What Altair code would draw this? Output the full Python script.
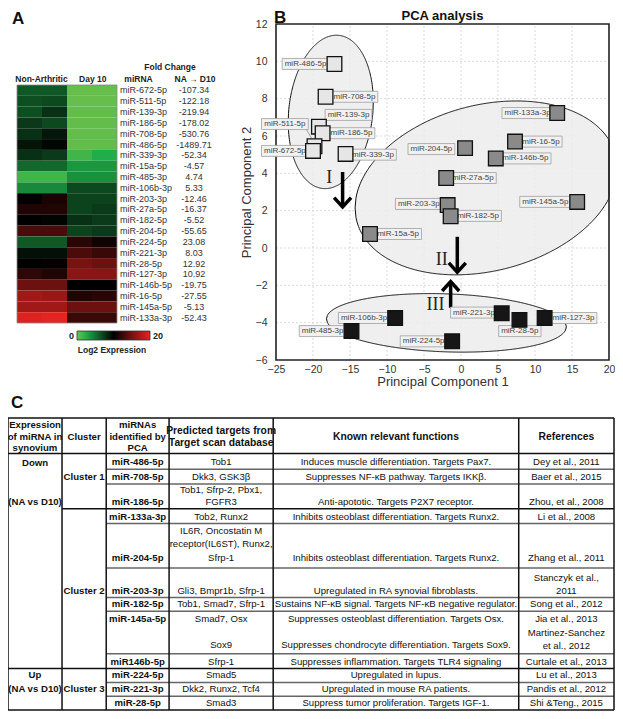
import altair as alt
import numpy as np
import pandas as pd

FONT = "Liberation Sans"
SERIF = "Liberation Serif"

# ================= Panel A : heat map data =================
heat_mirna = ["miR-672-5p", "miR-511-5p", "miR-139-3p", "miR-186-5p", "miR-708-5p", "miR-486-5p",
              "miR-339-3p", "miR-15a-5p", "miR-485-3p", "miR-106b-3p", "miR-203-3p", "miR-27a-5p",
              "miR-182-5p", "miR-204-5p", "miR-224-5p", "miR-221-3p", "miR-28-5p", "miR-127-3p",
              "miR-146b-5p", "miR-16-5p", "miR-145a-5p", "miR-133a-3p"]
na_rep1 = [6.2, 6.6, 6.6, 7.6, 7.95, 9.15, 7.95, 5.5, 1.5, 4.1, 10.2, 11.4,
           10.0, 13.2, 6.2, 9.3, 10.0, 11.9, 14.7, 17.0, 17.0, 19.6]
na_rep2 = [6.2, 6.85, 7.95, 6.85, 9.0, 9.65, 7.5, 5.5, 1.5, 4.1, 11.0, 11.4,
           9.8, 13.2, 6.2, 9.3, 10.2, 11.4, 14.7, 16.7, 17.0, 20.0]
d10_rep1 = [0.3, 0.3, 0.4, 0.4, 0.4, 0.4, 1.5, 3.5, 3.8, 6.85, 7.1, 7.1,
            7.95, 7.1, 11.8, 13.2, 15.2, 16.0, 10.0, 11.4, 14.7, 12.5]
d10_rep2 = [0.3, 0.3, 0.4, 0.4, 0.4, 0.4, 2.5, 3.5, 3.8, 6.85, 7.1, 7.5,
            7.5, 7.5, 10.7, 12.5, 14.7, 16.0, 10.0, 11.75, 14.7, 12.5]
fold_change = ["-107.34", "-122.18", "-219.94", "-178.02", "-530.76", "-1489.71", "-52.34", "-4.57",
               "4.74", "5.33", "-12.46", "-16.37", "-5.52", "-55.65", "23.08", "8.03", "12.92",
               "10.92", "-19.75", "-27.55", "-5.13", "-52.43"]
heat_stops = [0, 2.5, 10, 20]
heat_colors = ["#70c04b", "#1fae4a", "#000000", "#e52421"]

# ================= Panel B : PCA data =================
pca_mirna = ["miR-486-5p", "miR-708-5p", "miR-139-3p", "miR-186-5p", "miR-511-5p", "miR-672-5p", "miR-339-3p",
             "miR-133a-3p", "miR-16-5p", "miR-204-5p", "miR-146b-5p", "miR-27a-5p", "miR-203-3p",
             "miR-182-5p", "miR-145a-5p", "miR-15a-5p",
             "miR-106b-3p", "miR-485-3p", "miR-224-5p", "miR-221-3p", "miR-28-5p", "miR-127-3p"]
pc1 = [-17.1, -18.3, -19.2, -18.7, -19.8, -20.0, -15.6,
       13.0, 7.3, 0.55, 4.7, -2.0, -1.8, -1.4, 15.7, -12.3,
       -8.9, -14.8, -1.2, 5.5, 7.9, 11.3]
pc2 = [9.86, 8.1, 6.5, 6.15, 5.45, 5.2, 5.04,
       7.23, 5.7, 5.35, 4.8, 3.75, 2.3, 1.7, 2.47, 0.75,
       -3.75, -4.45, -5.0, -3.5, -3.85, -3.75]
pca_cluster = [1] * 7 + [2] * 9 + [3] * 6
# label anchor positions (data units)
lab_x = [-21.0, -14.4, -15.2, -14.8, -23.8, -23.8, -11.9,
         9.0, 10.8, -4.0, 8.7, 1.6, -5.7, 2.3, 11.4, -8.5,
         -13.1, -18.7, -5.05, 1.75, 7.95, 15.2]
lab_y = [9.86, 8.1, 7.13, 6.15, 6.64, 5.2, 5.0,
         7.23, 5.7, 5.3, 4.8, 3.75, 2.36, 1.72, 2.47, 0.75,
         -3.75, -4.45, -5.0, -3.46, -4.45, -3.75]
x_ticks = [-25, -20, -15, -10, -5, 0, 5, 10, 15, 20]
y_ticks = [-6, -4, -2, 0, 2, 4, 6, 8, 10, 12]
# ellipses: centre (data), semi-axes (px), tilt (deg)
ell_cx = [-17.6, 3.39, -1.97]
ell_cy = [7.29, 3.22, -4.01]
ell_a = [77.0, 133.5, 120.0]
ell_b = [42.0, 83.0, 29.0]
ell_t = [84.0, 14.3, -2.0]
arrow_x = [-16.0, -0.5, -1.4]
arrow_from = [4.07, 0.6, -3.2]
arrow_to = [2.2, -1.3, -1.8]
roman = ["I", "II", "III"]
roman_x = [-17.8, -2.6, -3.45]
roman_y = [3.75, -0.65, -3.05]

# ================= Panel C : table data =================
tbl_header = [["Expression", "of miRNA in", "synovium"], ["Cluster"], ["miRNAs", "identified by", "PCA"],
              ["Predicted targets from", "Target scan database"], ["Known relevant functions"], ["References"]]
tbl_mirna = ["miR-486-5p", "miR-708-5p", "miR-186-5p", "miR-133a-3p", "miR-204-5p", "miR-203-3p",
             "miR-182-5p", "miR-145a-5p", "miR146b-5p", "miR-224-5p", "miR-221-3p", "miR-28-5p"]
tbl_targets = [["Tob1"], ["Dkk3,  GSK3β"], ["Tob1,  Sfrp-2, Pbx1,", "FGFR3"], ["Tob2, Runx2"],
               ["IL6R,  Oncostatin M", "receptor(IL6ST), Runx2,", "Sfrp-1"], ["Gli3, Bmpr1b, Sfrp-1"],
               ["Tob1,  Smad7, Sfrp-1"], ["Smad7,  Osx", "Sox9"], ["Sfrp-1"], ["Smad5"],
               ["Dkk2, Runx2, Tcf4"], ["Smad3"]]
tbl_functions = [["Induces  muscle differentiation.  Targets Pax7."],
                 ["Suppresses NF-κB pathway. Targets IKKβ."],
                 ["Anti-apototic. Targets P2X7 receptor."],
                 ["Inhibits osteoblast  differentiation. Targets Runx2."],
                 ["Inhibits osteoblast  differentiation. Targets Runx2."],
                 ["Upregulated in RA synovial fibroblasts."],
                 ["Sustains NF-κB signal. Targets NF-κB negative regulator."],
                 ["Suppresses  osteoblast  differentiation. Targets Osx.",
                  "Suppresses  chondrocyte differentiation. Targets Sox9."],
                 ["Suppresses inflammation. Targets TLR4 signaling"],
                 ["Upregulated in lupus."],
                 ["Upregulated in mouse RA patients."],
                 ["Suppress tumor proliferation. Targets IGF-1."]]
tbl_refs = [["Dey et al., 2011"], ["Baer et al., 2015"], ["Zhou, et al., 2008"], ["Li et al., 2008"],
            ["Zhang et al., 2011"], ["Stanczyk et al.,", "2011"], ["Song et al., 2012"],
            ["Jia et al., 2013", "Martinez-Sanchez", "et al., 2012"], ["Curtale et al., 2013"],
            ["Lu et al., 2013"], ["Pandis et al., 2012"], ["Shi &Teng., 2015"]]
tbl_groups = [(["Down"], ["(NA vs D10)"]), (["Up"], ["(NA vs D10)"])]
tbl_clusters = ["Cluster 1", "Cluster 2", "Cluster 3"]

# ---------------- layout (picture coordinates of the table) ----------------
col_edges = [3, 58, 103, 167, 273, 523, 620]
header_y = [[429, 441, 452], [441], [429, 441, 452], [435, 447], [441], [441]]
row_y_mirna = [467, 482, 507, 522, 564, 597, 611, 626, 669, 683, 697, 711]
row_y_targets = [[467], [482], [495, 507], [522], [537, 550, 564], [597], [611], [626, 652], [669], [683], [697], [711]]
row_y_functions = [[467], [482], [507], [522], [564], [597], [611], [626, 652], [669], [683], [697], [711]]
row_y_refs = [[467], [482], [507], [522], [564], [584, 597], [611], [626, 640, 653], [669], [683], [697], [711]]
group_y = [(468, 507), (683, 697)]
cluster_y = [482, 597, 697]
hlines = [(422, 3, "major"), (458, 3, "major"), (474, 103, "minor"), (489, 103, "minor"),
          (514, 58, "major"), (529, 103, "minor"), (574, 103, "minor"), (604, 103, "minor"),
          (618, 103, "minor"), (661, 103, "minor"), (676, 3, "major"), (690, 103, "minor"),
          (704, 103, "minor"), (718, 3, "major")]

# ======================================================================
# Panel A chart
# ======================================================================
hx = alt.Scale(domain=[0, 4], range=[9, 109], nice=False, zero=False)
hy = alt.Scale(domain=[0, 22], range=[77, 315], nice=False, zero=False)


def HX(f):
    return alt.X(f, scale=hx, axis=None)


def HY(f):
    return alt.Y(f, scale=hy, axis=None)


cells = []
for i, m in enumerate(heat_mirna):
    for c, series in enumerate([na_rep1, na_rep2, d10_rep1, d10_rep2]):
        cells.append({"mirna": m, "c0": c, "c1": c + 1, "r0": i, "r1": i + 1, "value": series[i]})
cells = pd.DataFrame(cells)

heat_rect = alt.Chart(cells).mark_rect().encode(
    x=HX("c0:Q"), x2="c1:Q", y=HY("r0:Q"), y2="r1:Q",
    color=alt.Color("value:Q",
                    scale=alt.Scale(domain=heat_stops, range=heat_colors, interpolate="rgb"),
                    legend=alt.Legend(orient="none", legendX=69, legendY=323, direction="horizontal",
                                      gradientLength=73, gradientThickness=9, title=None,
                                      labelOpacity=0, labelFontSize=1,
                                      gradientStrokeColor="#333", gradientStrokeWidth=0.8)))

outline_df = pd.DataFrame({"c0": [0], "c1": [4], "r0": [0], "r1": [22]})
heat_outline = alt.Chart(outline_df).mark_rect(fill=None, stroke="#888", strokeWidth=0.8).encode(
    x=HX("c0:Q"), x2="c1:Q", y=HY("r0:Q"), y2="r1:Q")

lab_df = pd.DataFrame({"text": heat_mirna, "fc": fold_change,
                       "ry": [i + 0.5 for i in range(len(heat_mirna))],
                       "lx": [4.12] * len(heat_mirna), "fx": [7.08] * len(heat_mirna)})
heat_names = alt.Chart(lab_df).mark_text(font=FONT, fontSize=9, align="left", baseline="middle",
                                         color="#333").encode(x=HX("lx:Q"), y=HY("ry:Q"), text="text:N")
heat_fc = alt.Chart(lab_df).mark_text(font=FONT, fontSize=9, align="center", baseline="middle",
                                      color="#333").encode(x=HX("fx:Q"), y=HY("ry:Q"), text="fc:N")

head_df = pd.DataFrame({"text": ["Non-Arthritic", "Day 10", "miRNA", "Fold Change", "NA → D10"],
                        "x": [0.98, 3.03, 4.86, 6.12, 7.12],
                        "y": [-0.55, -0.55, -0.55, -1.69, -0.55]})
heat_head = alt.Chart(head_df).mark_text(font=FONT, fontSize=8.5, fontWeight="bold", align="center",
                                         baseline="middle", color="#222").encode(
    x=HX("x:Q"), y=HY("y:Q"), text="text:N")

cb_df = pd.DataFrame({"text": ["0", "20"], "x": [2.28, 5.44], "y": [23.16, 23.16]})
cb_left = alt.Chart(cb_df.iloc[[0]]).mark_text(font=FONT, fontSize=9, fontWeight="bold", align="right",
                                               baseline="middle", color="#222").encode(
    x=HX("x:Q"), y=HY("y:Q"), text="text:N")
cb_right = alt.Chart(cb_df.iloc[[1]]).mark_text(font=FONT, fontSize=9, fontWeight="bold", align="left",
                                                baseline="middle", color="#222").encode(
    x=HX("x:Q"), y=HY("y:Q"), text="text:N")
cb_title = alt.Chart(pd.DataFrame({"text": ["Log2 Expression"], "x": [3.8], "y": [24.5]})).mark_text(
    font=FONT, fontSize=8.5, fontWeight="bold", align="center", baseline="middle", color="#222").encode(
    x=HX("x:Q"), y=HY("y:Q"), text="text:N")
letter_a = alt.Chart(pd.DataFrame({"text": ["A"], "x": [-0.2], "y": [-6.85]})).mark_text(
    font=FONT, fontSize=17, fontWeight="bold", align="left", baseline="top", color="#111").encode(
    x=HX("x:Q"), y=HY("y:Q"), text="text:N")

panel_a = alt.layer(heat_rect, heat_outline, heat_names, heat_fc, heat_head,
                    cb_left, cb_right, cb_title, letter_a)

# ======================================================================
# Panel B chart
# ======================================================================
PX0, PX1, PY0, PY1 = 268, 601, 352, 16
px = alt.Scale(domain=[x_ticks[0], x_ticks[-1]], range=[PX0, PX1], nice=False, zero=False)
py = alt.Scale(domain=[y_ticks[0], y_ticks[-1]], range=[PY0, PY1], nice=False, zero=False)
SX = (PX1 - PX0) / (x_ticks[-1] - x_ticks[0])
SY = (PY0 - PY1) / (y_ticks[-1] - y_ticks[0])

xaxis = alt.Axis(orient="bottom", offset=PY0 - 703, values=x_ticks, grid=False, domain=False, ticks=False,
                 labelFont=FONT, labelFontSize=10.5, labelColor="#333", labelPadding=4, labelFlush=False,
                 labelOverlap=False, title="Principal Component 1", titleFont=FONT, titleFontSize=13,
                 titleFontWeight="normal", titleColor="#333", titlePadding=1)
yaxis = alt.Axis(orient="left", offset=-PX0, values=y_ticks, grid=False, domain=False, ticks=False,
                 labelFont=FONT, labelFontSize=10.5, labelColor="#333", labelPadding=9, labelFlush=False,
                 labelOverlap=False, title="Principal Component 2", titleFont=FONT, titleFontSize=13,
                 titleFontWeight="normal", titleColor="#333", titlePadding=2)


def PXE(f):
    return alt.X(f, scale=px, axis=xaxis)


def PYE(f):
    return alt.Y(f, scale=py, axis=yaxis)


# grid lines
gv = pd.DataFrame({"x": x_ticks[1:-1], "y0": y_ticks[0], "y1": y_ticks[-1]})
gh = pd.DataFrame({"y": y_ticks[1:-1], "x0": x_ticks[0], "x1": x_ticks[-1]})
grid_v = alt.Chart(gv).mark_rule(color="#cfcfcf", strokeWidth=0.8, strokeDash=[2, 2]).encode(
    x=PXE("x:Q"), y=PYE("y0:Q"), y2="y1:Q")
grid_h = alt.Chart(gh).mark_rule(color="#cfcfcf", strokeWidth=0.8, strokeDash=[2, 2]).encode(
    y=PYE("y:Q"), x=PXE("x0:Q"), x2="x1:Q")


def ellipse_band(cx, cy, a, b, tdeg, xmax, n=300):
    th = np.radians(tdeg)
    c, s = np.cos(th), np.sin(th)
    A = s * s / a ** 2 + c * c / b ** 2
    W = np.sqrt(a * a * c * c + b * b * s * s)
    umax = min(W, (xmax - cx) * SX)
    u = np.linspace(-W, umax, n)
    B = 2 * u * s * c * (1 / a ** 2 - 1 / b ** 2)
    C = u * u * (c * c / a ** 2 + s * s / b ** 2) - 1
    disc = np.clip(B * B - 4 * A * C, 0, None)
    v1 = (-B - np.sqrt(disc)) / (2 * A)
    v2 = (-B + np.sqrt(disc)) / (2 * A)
    return pd.DataFrame({"x": cx + u / SX, "ylo": cy + v1 / SY, "yhi": cy + v2 / SY})


ell_layers = []
for k in range(3):
    edf = ellipse_band(ell_cx[k], ell_cy[k], ell_a[k], ell_b[k], ell_t[k], x_ticks[-1])
    ell_layers.append(alt.Chart(edf).mark_area(fill="#ececec", fillOpacity=0.85, stroke="#111",
                                               strokeWidth=1.0).encode(
        x=PXE("x:Q"), y=PYE("ylo:Q"), y2="yhi:Q"))

frame_df = pd.DataFrame({"x0": [x_ticks[0]], "x1": [x_ticks[-1]], "y0": [y_ticks[0]], "y1": [y_ticks[-1]]})
frame = alt.Chart(frame_df).mark_rect(fill=None, stroke="#222", strokeWidth=1.6).encode(
    x=PXE("x0:Q"), x2="x1:Q", y=PYE("y0:Q"), y2="y1:Q")

arr_df = pd.DataFrame({"x": arrow_x, "y0": arrow_from, "y1": arrow_to})
shafts = alt.Chart(arr_df).mark_rule(color="black", strokeWidth=3.5).encode(
    x=PXE("x:Q"), y=PYE("y0:Q"), y2="y1:Q")
heads_down = alt.Chart(arr_df.iloc[[0, 1]]).mark_point(shape="M-1,-1.1L0,0L1,-1.1", size=289, filled=False,
                                                        stroke="black", strokeWidth=3.5, opacity=1).encode(
    x=PXE("x:Q"), y=PYE("y1:Q"))
heads_up = alt.Chart(arr_df.iloc[[2]]).mark_point(shape="M-1,1.1L0,0L1,1.1", size=289, filled=False,
                                                   stroke="black", strokeWidth=3.5, opacity=1).encode(
    x=PXE("x:Q"), y=PYE("y1:Q"))

rom_df = pd.DataFrame({"text": roman, "x": roman_x, "y": roman_y})
romans = alt.Chart(rom_df).mark_text(font=SERIF, fontSize=18, color="#222", align="center",
                                     baseline="middle").encode(x=PXE("x:Q"), y=PYE("y:Q"), text="text:N")

CW = {"m": 0.833, "i": 0.222, "R": 0.722, "-": 0.333}


def text_w(s, fs):
    return sum(CW.get(ch, 0.556) for ch in s) * fs


LFS = 8
box_half = [(text_w(t, LFS) + 5) / 2 / SX for t in pca_mirna]
pdf = pd.DataFrame({"mirna": pca_mirna, "pc1": pc1, "pc2": pc2, "cluster": pca_cluster,
                    "lx": lab_x, "ly": lab_y,
                    "bx0": [lab_x[i] - box_half[i] for i in range(len(lab_x))],
                    "bx1": [lab_x[i] + box_half[i] for i in range(len(lab_x))],
                    "by0": [v - 5.5 / SY for v in lab_y], "by1": [v + 5.5 / SY for v in lab_y]})
boxes = alt.Chart(pdf).mark_rect(fill="#f1f1f1", stroke="#a0a0a0", strokeWidth=0.8).encode(
    x=PXE("bx0:Q"), x2="bx1:Q", y=PYE("by0:Q"), y2="by1:Q")
labels = alt.Chart(pdf).mark_text(font=FONT, fontSize=LFS, color="#444", align="center",
                                  baseline="middle").encode(x=PXE("lx:Q"), y=PYE("ly:Q"), text="mirna:N")
lead_df = pd.DataFrame({"x0": [-20.9], "y0": [6.36], "x1": [-19.85], "y1": [5.65]})
leader = alt.Chart(lead_df).mark_rule(color="#888", strokeWidth=0.8).encode(
    x=PXE("x0:Q"), y=PYE("y0:Q"), x2="x1:Q", y2="y1:Q")

fills = {1: "#e6e6e6", 2: "#8a8a8a", 3: "#161616"}
point_layers = []
for cl in [1, 2, 3]:
    point_layers.append(alt.Chart(pdf[pdf.cluster == cl]).mark_square(
        size=215, filled=True, fill=fills[cl], stroke="#111", strokeWidth=1.3, opacity=1).encode(
        x=PXE("pc1:Q"), y=PYE("pc2:Q")))

ttl_df = pd.DataFrame({"text": ["B", "PCA analysis"], "x": [x_ticks[0], (x_ticks[0] + x_ticks[-1]) / 2],
                       "y": [y_ticks[-1], y_ticks[-1]]})
letter_b = alt.Chart(ttl_df.iloc[[0]]).mark_text(font=FONT, fontSize=17, fontWeight="bold", align="left",
                                                 baseline="top", color="#111", dx=-2, dy=-14).encode(
    x=PXE("x:Q"), y=PYE("y:Q"), text="text:N")
pca_title = alt.Chart(ttl_df.iloc[[1]]).mark_text(font=FONT, fontSize=13, fontWeight="bold", align="center",
                                                  baseline="top", color="#111", dy=-14).encode(
    x=PXE("x:Q"), y=PYE("y:Q"), text="text:N")

panel_b = alt.layer(grid_v, grid_h, *ell_layers, frame, shafts, heads_down, heads_up, romans,
                    boxes, labels, leader, *point_layers, letter_b, pca_title)

# ======================================================================
# Panel C chart (table)
# ======================================================================
tx = alt.Scale(domain=[col_edges[0], col_edges[-1]], range=[0, 606], nice=False, zero=False)
ty = alt.Scale(domain=[422, 718], range=[410, 702], nice=False, zero=False)


def TX(f):
    return alt.X(f, scale=tx, axis=None)


def TY(f):
    return alt.Y(f, scale=ty, axis=None)


col_mid = [(col_edges[i] + col_edges[i + 1]) / 2 for i in range(6)]
items = []  # (x, y, text, kind)
for c in range(6):
    kind = "head" if c < 3 else "head2"
    for t, y in zip(tbl_header[c], header_y[c]):
        items.append((col_mid[c], y, t, kind))
for g, ys in zip(tbl_groups, group_y):
    items.append((col_mid[0], ys[0], g[0][0], "bold"))
    items.append((col_mid[0], ys[1], g[1][0], "bold"))
for t, y in zip(tbl_clusters, cluster_y):
    items.append((col_mid[1], y, t, "bold"))
for t, y in zip(tbl_mirna, row_y_mirna):
    items.append((col_mid[2], y, t, "bold"))
for col, texts, ys in [(3, tbl_targets, row_y_targets), (4, tbl_functions, row_y_functions),
                       (5, tbl_refs, row_y_refs)]:
    for tl, yl in zip(texts, ys):
        for t, y in zip(tl, yl):
            items.append((col_mid[col], y, t, "normal"))
items = pd.DataFrame(items, columns=["x", "y", "text", "kind"])

t_head = alt.Chart(items[items.kind == "head"]).mark_text(
    font=FONT, fontSize=9.6, fontWeight="bold", align="center", baseline="middle", color="#111").encode(
    x=TX("x:Q"), y=TY("y:Q"), text="text:N")
t_head2 = alt.Chart(items[items.kind == "head2"]).mark_text(
    font=FONT, fontSize=10.3, fontWeight="bold", align="center", baseline="middle", color="#111").encode(
    x=TX("x:Q"), y=TY("y:Q"), text="text:N")
t_bold = alt.Chart(items[items.kind == "bold"]).mark_text(
    font=FONT, fontSize=9.6, fontWeight="bold", align="center", baseline="middle", color="#111").encode(
    x=TX("x:Q"), y=TY("y:Q"), text="text:N")
t_norm = alt.Chart(items[items.kind == "normal"]).mark_text(
    font=FONT, fontSize=9.6, align="center", baseline="middle", color="#111").encode(
    x=TX("x:Q"), y=TY("y:Q"), text="text:N")

hl = pd.DataFrame([{"y": y, "x0": x0, "x1": col_edges[-1], "kind": k} for (y, x0, k) in hlines])
vl = pd.DataFrame({"x": col_edges, "y0": 422, "y1": 718})
h_major = alt.Chart(hl[hl.kind == "major"]).mark_rule(color="#111", strokeWidth=1.5).encode(
    x=TX("x0:Q"), x2="x1:Q", y=TY("y:Q"))
h_minor = alt.Chart(hl[hl.kind == "minor"]).mark_rule(color="#666", strokeWidth=1.5).encode(
    x=TX("x0:Q"), x2="x1:Q", y=TY("y:Q"))
v_lines = alt.Chart(vl).mark_rule(color="#111", strokeWidth=1.5).encode(
    x=TX("x:Q"), y=TY("y0:Q"), y2="y1:Q")
letter_c = alt.Chart(pd.DataFrame({"text": ["C"], "x": [6], "y": [407]})).mark_text(
    font=FONT, fontSize=17, fontWeight="bold", align="left", baseline="middle", color="#111").encode(
    x=TX("x:Q"), y=TY("y:Q"), text="text:N")

panel_c = alt.layer(h_minor, h_major, v_lines, t_head, t_head2, t_bold, t_norm, letter_c)

chart = alt.layer(panel_a, panel_b, panel_c).resolve_scale(
    x="independent", y="independent").properties(
    width=607, height=703, padding=0, autosize=alt.AutoSizeParams(type="none")
).configure_view(stroke=None)

chart.save("out.html", embed_options={"renderer": "svg", "actions": False})
